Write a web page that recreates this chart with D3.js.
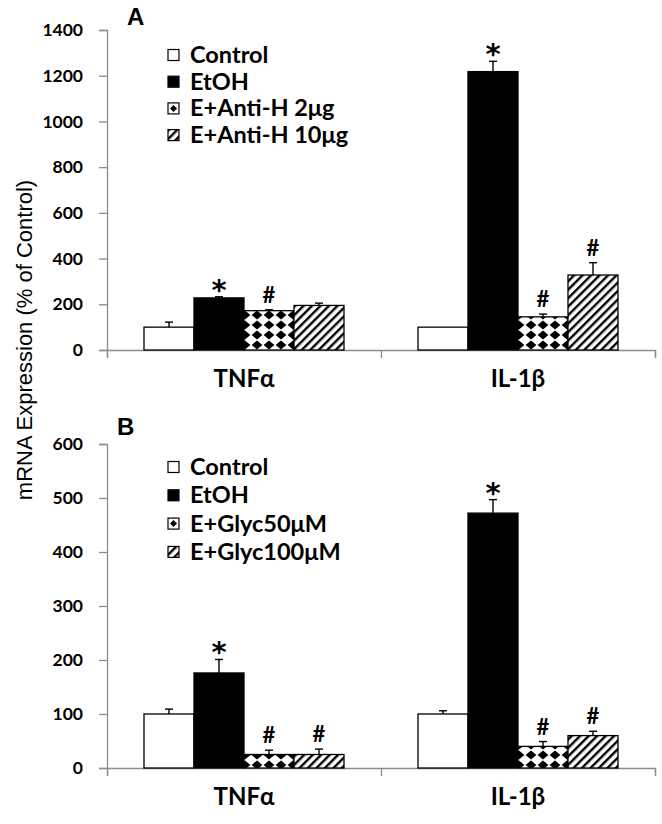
<!DOCTYPE html>
<html>
<head>
<meta charset="utf-8">
<script src="https://cdn.jsdelivr.net/npm/d3@7"></script>
<style>
  body { margin: 0; background: #fff; }
  text { font-family: Lato, "Open Sans", sans-serif; font-weight: bold; fill: #000; }
</style>
</head>
<body>
<script>
let groups = ['TNFα', 'IL-1β']

// panel A
let seriesA = ['Control', 'EtOH', 'E+Anti-H 2μg', 'E+Anti-H 10μg']
let meansA = [[100, 228, 172, 195], [100, 1218, 145, 328]]
let errsA = [[22, 5, 4, 10], [0, 45, 12, 54]]
let marksA = [['', '*', '#', ''], ['', '*', '#', '#']]
let ticksA = [0, 200, 400, 600, 800, 1000, 1200, 1400]

// panel B
let seriesB = ['Control', 'EtOH', 'E+Glyc50μM', 'E+Glyc100μM']
let meansB = [[100, 176, 25, 25], [100, 472, 40, 60]]
let errsB = [[9, 25, 8, 10], [6, 25, 9, 8]]
let marksB = [['', '*', '#', '#'], ['', '*', '#', '#']]
let ticksB = [0, 100, 200, 300, 400, 500, 600]

let width = 662
let height = 824
let left = 107
let right = 655

let fills = ['#fff', '#000', 'url(#diam)', 'url(#hatch)']

let svg = d3.select('body').append('svg')
    .attr('width', width)
    .attr('height', height)

let defs = svg.append('defs')

let diam = defs.append('pattern')
    .attr('id', 'diam')
    .attr('patternUnits', 'userSpaceOnUse')
    .attr('width', 12).attr('height', 10)
diam.append('rect').attr('width', 12).attr('height', 10).attr('fill', '#fff')
diam.append('path').attr('d', 'M6,0.6 L11.4,5 L6,9.4 L0.6,5 Z').attr('fill', '#000')

let hatch = defs.append('pattern')
    .attr('id', 'hatch')
    .attr('patternUnits', 'userSpaceOnUse')
    .attr('width', 6).attr('height', 6)
    .attr('patternTransform', 'rotate(45)')
hatch.append('rect').attr('width', 6).attr('height', 6).attr('fill', '#fff')
hatch.append('rect').attr('width', 2.4).attr('height', 6).attr('fill', '#000')

let panels = [
    { letter: 'A', letterX: 127, letterY: 25, top: 30, bottom: 350, max: 1400,
      ticks: ticksA, series: seriesA, means: meansA, errs: errsA, marks: marksA,
      legendY: 55, legendStep: 26.7 },
    { letter: 'B', letterX: 117, letterY: 435, top: 444, bottom: 768, max: 600,
      ticks: ticksB, series: seriesB, means: meansB, errs: errsB, marks: marksB,
      legendY: 467, legendStep: 28.3 }
]

let xScale = d3.scaleBand().domain(groups).range([left, right])

let drawPanel = (p) => {
    let g = svg.append('g')

    let yScale = d3.scaleLinear().domain([0, p.max]).range([p.bottom, p.top])
    let inner = d3.scaleBand().domain(p.series)
        .range([0, xScale.bandwidth()])
        .paddingInner(0).paddingOuter(0.74)

    // y axis
    let yAxis = d3.axisLeft(yScale).tickValues(p.ticks).tickFormat(d3.format('d')).tickSize(8).tickPadding(16)
    let ya = g.append('g')
        .attr('transform', 'translate(' + left + ',0)')
        .call(yAxis)
    ya.selectAll('path, line').attr('stroke', '#8c8c8c').attr('stroke-width', 1.3)
    ya.selectAll('text').style('font-size', '17.5px')

    // category boundaries on x axis
    let bound = d3.scaleLinear().domain([0, groups.length]).range([left, right])
    let xa = g.append('g')
        .attr('transform', 'translate(0,' + p.bottom + ')')
        .call(d3.axisBottom(bound).tickValues(d3.range(groups.length + 1)).tickFormat('').tickSize(8))
    xa.selectAll('path, line').attr('stroke', '#8c8c8c').attr('stroke-width', 1.3)

    // group labels
    let xl = g.append('g')
        .attr('transform', 'translate(0,' + p.bottom + ')')
        .call(d3.axisBottom(xScale).tickSize(0).tickPadding(20))
    xl.select('.domain').remove()
    xl.selectAll('text').style('font-size', '24px')

    // bars
    groups.forEach((grp, gi) => {
        let gg = g.append('g').attr('transform', 'translate(' + xScale(grp) + ',0)')
        let rows = p.series.map((s, i) => ({ s: s, i: i, v: p.means[gi][i], e: p.errs[gi][i], m: p.marks[gi][i] }))

        gg.selectAll('rect.bar')
            .data(rows)
            .enter()
            .append('rect')
            .attr('class', 'bar')
            .attr('x', (d) => inner(d.s))
            .attr('y', (d) => yScale(d.v))
            .attr('width', inner.bandwidth())
            .attr('height', (d) => p.bottom - yScale(d.v))
            .attr('fill', (d) => fills[d.i])
            .attr('stroke', '#000')
            .attr('stroke-width', 1.3)

        let eb = gg.selectAll('g.err')
            .data(rows.filter((d) => d.e > 0))
            .enter()
            .append('g')
            .attr('stroke', '#000')
            .attr('stroke-width', 1.4)
        eb.append('line')
            .attr('x1', (d) => inner(d.s) + inner.bandwidth() / 2)
            .attr('x2', (d) => inner(d.s) + inner.bandwidth() / 2)
            .attr('y1', (d) => yScale(d.v))
            .attr('y2', (d) => yScale(d.v + d.e))
        eb.append('line')
            .attr('x1', (d) => inner(d.s) + inner.bandwidth() / 2 - 4)
            .attr('x2', (d) => inner(d.s) + inner.bandwidth() / 2 + 4)
            .attr('y1', (d) => yScale(d.v + d.e))
            .attr('y2', (d) => yScale(d.v + d.e))

        gg.selectAll('text.mark')
            .data(rows.filter((d) => d.m != ''))
            .enter()
            .append('text')
            .attr('class', 'mark')
            .attr('x', (d) => inner(d.s) + inner.bandwidth() / 2)
            .attr('y', (d) => yScale(d.v + d.e) + (d.m == '*' ? 3 : -7))
            .attr('text-anchor', 'middle')
            .style('font-family', (d) => d.m == '*' ? '"DejaVu Sans", sans-serif' : null)
            .style('font-size', (d) => d.m == '*' ? '29px' : '22px')
            .text((d) => d.m)
    })

    // legend
    let lg = g.append('g')
    p.series.forEach((s, i) => {
        let cy = p.legendY + i * p.legendStep
        lg.append('rect')
            .attr('x', 168).attr('y', cy - 5.5)
            .attr('width', 11).attr('height', 11)
            .attr('fill', i == 2 ? '#fff' : fills[i])
            .attr('stroke', '#000').attr('stroke-width', 1.2)
        if (i == 2) {
            lg.append('path')
                .attr('d', 'M173.5,' + (cy - 3.5) + ' L177,' + cy + ' L173.5,' + (cy + 3.5) + ' L170,' + cy + ' Z')
                .attr('fill', '#000')
        }
        lg.append('text')
            .attr('x', 190).attr('y', cy + 8)
            .style('font-size', '23.5px')
            .text(s)
    })

    svg.append('text')
        .attr('x', p.letterX).attr('y', p.letterY)
        .style('font-family', '"Liberation Sans", Arial, sans-serif')
        .style('font-size', '24px')
        .text(p.letter)
}

panels.forEach(drawPanel)

// shared y axis title
svg.append('text')
    .attr('transform', 'translate(32,340) rotate(-90)')
    .attr('text-anchor', 'middle')
    .style('font-family', '"Liberation Sans", Arial, sans-serif')
    .style('font-weight', 'normal')
    .style('font-size', '22px')
    .text('mRNA Expression (% of Control)')
</script>
</body>
</html>
